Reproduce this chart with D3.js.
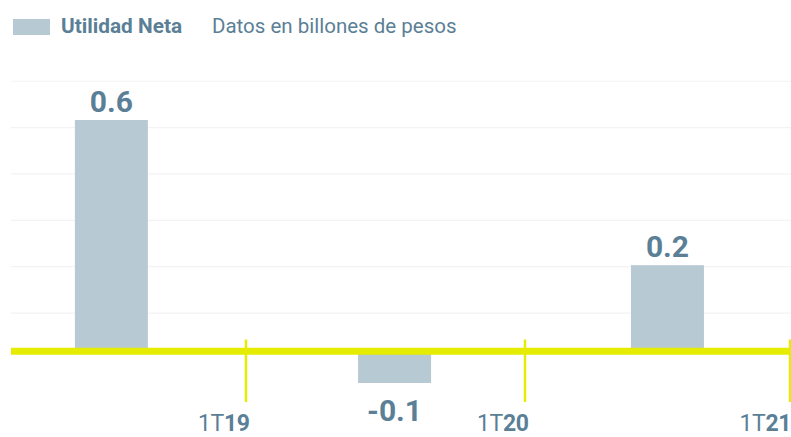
<!DOCTYPE html>
<html>
<head>
<meta charset="utf-8">
<script src="https://cdn.jsdelivr.net/npm/d3@7"></script>
<style>
  html, body { margin: 0; padding: 0; background: #fff; }
  svg { display: block; font-family: Roboto, "Open Sans", sans-serif; }
</style>
</head>
<body>
<svg id="chart" width="791" height="437"></svg>
<script>
// ---- data ----
const seriesName = "Utilidad Neta";
const subtitle = "Datos en billones de pesos";
const barLabels = ["0.6", "-0.1", "0.2"];
const barValues = [0.6, -0.092, 0.218];
const barQuarter = [-1.93, 2.13, 6.15];       // position on quarter axis (0 = 1T19)
const tickQuarter = [0, 4, 8];
const tickPrefix = ["1T", "1T", "1T"];
const tickSuffix = ["19", "20", "21"];
const gridValues = [0.092, 0.214, 0.336, 0.458, 0.580, 0.702];

// ---- styles ----
const textColor = "#5b7f96";
const barColor = "#b7c9d3";
const axisColor = "#e5ec00";
const gridColor = "#f2f3f3";

const svg = d3.select("#chart");

const x = d3.scaleLinear().domain([0, 4, 8]).range([246, 525, 790]);
const y = d3.scaleLinear().domain([0, 0.6]).range([348, 120]);
const barW = 73;

// gridlines
svg.append("g").selectAll("line").data(gridValues).join("line")
  .attr("x1", 11).attr("x2", 791)
  .attr("y1", d => y(d)).attr("y2", d => y(d))
  .attr("stroke", gridColor).attr("stroke-width", 1.2);

// bars
svg.append("g").selectAll("rect").data(barValues).join("rect")
  .attr("x", (d, i) => x(barQuarter[i]) - barW / 2)
  .attr("width", barW)
  .attr("y", d => Math.min(y(d), y(0)))
  .attr("height", d => Math.abs(y(d) - y(0)))
  .attr("fill", barColor);

// zero axis line
svg.append("line")
  .attr("x1", 11).attr("x2", 791)
  .attr("y1", y(0) + 3.3).attr("y2", y(0) + 3.3)
  .attr("stroke", axisColor).attr("stroke-width", 7);

// ticks
svg.append("g").selectAll("line").data(tickQuarter).join("line")
  .attr("x1", d => x(d)).attr("x2", d => x(d))
  .attr("y1", 339.5).attr("y2", 402)
  .attr("stroke", axisColor).attr("stroke-width", 2.5);

// tick labels
const tl = svg.append("g").selectAll("text").data(tickQuarter).join("text")
  .attr("x", d => Math.min(x(d) + 3.5, 791))
  .attr("y", 431)
  .attr("text-anchor", "end")
  .attr("fill", textColor)
  .attr("font-size", 23)
  .attr("letter-spacing", -0.4);
tl.append("tspan").attr("font-weight", 400).text((d, i) => tickPrefix[i]);
tl.append("tspan").attr("font-weight", 700).text((d, i) => tickSuffix[i]);

// value labels
svg.append("g").selectAll("text").data(barValues).join("text")
  .attr("x", (d, i) => x(barQuarter[i]))
  .attr("y", d => d >= 0 ? y(d) - 8 : y(d) + 38)
  .attr("text-anchor", "middle")
  .attr("fill", textColor)
  .attr("font-size", 30)
  .attr("font-weight", 700)
  .text((d, i) => barLabels[i]);

// legend
svg.append("rect").attr("x", 13).attr("y", 19).attr("width", 37).attr("height", 16).attr("fill", barColor);
svg.append("text").attr("x", 61).attr("y", 33).attr("fill", textColor)
  .attr("font-size", 20.8).attr("font-weight", 700).text(seriesName);
svg.append("text").attr("x", 212).attr("y", 33).attr("fill", textColor)
  .attr("font-size", 20.5).attr("font-weight", 400).text(subtitle);
</script>
</body>
</html>
